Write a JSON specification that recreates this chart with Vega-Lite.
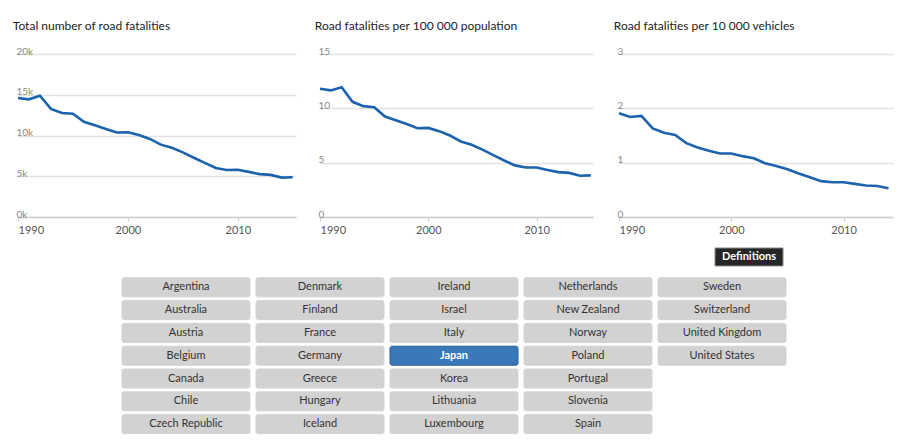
{
  "$schema": "https://vega.github.io/schema/vega-lite/v6.json",
  "padding": {"left": 12, "top": 20, "right": 5, "bottom": 5},
  "background": "white",
  "config": {
    "view": {"stroke": null},
    "font": "Lato",
    "title": {"anchor": "start", "dx": 0, "fontSize": 12, "fontWeight": "normal", "color": "#222222", "font": "Lato", "offset": 13},
    "axisX": {"grid": false, "domainColor": "#d0d0d0", "domainWidth": 1.5, "tickColor": "#d0d0d0", "tickSize": 4, "labelColor": "#555555", "labelFontSize": 11, "labelPadding": 3, "labelFont": "Lato", "title": null, "labelFlush": true},
    "axisY": {"domain": false, "ticks": false, "tickSize": 0, "grid": true, "gridColor": "#e3e3e3", "gridWidth": 1.5, "labelAlign": "left", "labelBaseline": "alphabetic", "labelPadding": 2, "labelDy": -3, "labelColor": "#8a8a8a", "labelFontSize": 10, "labelFont": "Lato", "title": null}
  },
  "datasets": {
    "japan": [
      {"year": 1990, "total": 14595, "per_pop": 11.8, "per_veh": 1.91},
      {"year": 1991, "total": 14436, "per_pop": 11.65, "per_veh": 1.84},
      {"year": 1992, "total": 14886, "per_pop": 11.95, "per_veh": 1.86},
      {"year": 1993, "total": 13269, "per_pop": 10.6, "per_veh": 1.63},
      {"year": 1994, "total": 12768, "per_pop": 10.2, "per_veh": 1.55},
      {"year": 1995, "total": 12670, "per_pop": 10.1, "per_veh": 1.51},
      {"year": 1996, "total": 11674, "per_pop": 9.25, "per_veh": 1.36},
      {"year": 1997, "total": 11254, "per_pop": 8.9, "per_veh": 1.28},
      {"year": 1998, "total": 10805, "per_pop": 8.55, "per_veh": 1.22},
      {"year": 1999, "total": 10372, "per_pop": 8.17, "per_veh": 1.17},
      {"year": 2000, "total": 10403, "per_pop": 8.2, "per_veh": 1.17},
      {"year": 2001, "total": 10060, "per_pop": 7.9, "per_veh": 1.12},
      {"year": 2002, "total": 9575, "per_pop": 7.5, "per_veh": 1.08},
      {"year": 2003, "total": 8877, "per_pop": 6.95, "per_veh": 0.99},
      {"year": 2004, "total": 8492, "per_pop": 6.65, "per_veh": 0.94},
      {"year": 2005, "total": 7931, "per_pop": 6.2, "per_veh": 0.88},
      {"year": 2006, "total": 7272, "per_pop": 5.7, "per_veh": 0.8},
      {"year": 2007, "total": 6639, "per_pop": 5.2, "per_veh": 0.73},
      {"year": 2008, "total": 6023, "per_pop": 4.75, "per_veh": 0.66},
      {"year": 2009, "total": 5772, "per_pop": 4.55, "per_veh": 0.64},
      {"year": 2010, "total": 5806, "per_pop": 4.55, "per_veh": 0.64},
      {"year": 2011, "total": 5535, "per_pop": 4.33, "per_veh": 0.61},
      {"year": 2012, "total": 5261, "per_pop": 4.13, "per_veh": 0.58},
      {"year": 2013, "total": 5165, "per_pop": 4.06, "per_veh": 0.57},
      {"year": 2014, "total": 4838, "per_pop": 3.8, "per_veh": 0.53},
      {"year": 2015, "total": 4885, "per_pop": 3.83, "per_veh": null}
    ],
    "countries": [
      {"country": "Argentina", "col": 1, "row": 1, "selected": "no"},
      {"country": "Australia", "col": 1, "row": 2, "selected": "no"},
      {"country": "Austria", "col": 1, "row": 3, "selected": "no"},
      {"country": "Belgium", "col": 1, "row": 4, "selected": "no"},
      {"country": "Canada", "col": 1, "row": 5, "selected": "no"},
      {"country": "Chile", "col": 1, "row": 6, "selected": "no"},
      {"country": "Czech Republic", "col": 1, "row": 7, "selected": "no"},
      {"country": "Denmark", "col": 2, "row": 1, "selected": "no"},
      {"country": "Finland", "col": 2, "row": 2, "selected": "no"},
      {"country": "France", "col": 2, "row": 3, "selected": "no"},
      {"country": "Germany", "col": 2, "row": 4, "selected": "no"},
      {"country": "Greece", "col": 2, "row": 5, "selected": "no"},
      {"country": "Hungary", "col": 2, "row": 6, "selected": "no"},
      {"country": "Iceland", "col": 2, "row": 7, "selected": "no"},
      {"country": "Ireland", "col": 3, "row": 1, "selected": "no"},
      {"country": "Israel", "col": 3, "row": 2, "selected": "no"},
      {"country": "Italy", "col": 3, "row": 3, "selected": "no"},
      {"country": "Japan", "col": 3, "row": 4, "selected": "yes"},
      {"country": "Korea", "col": 3, "row": 5, "selected": "no"},
      {"country": "Lithuania", "col": 3, "row": 6, "selected": "no"},
      {"country": "Luxembourg", "col": 3, "row": 7, "selected": "no"},
      {"country": "Netherlands", "col": 4, "row": 1, "selected": "no"},
      {"country": "New Zealand", "col": 4, "row": 2, "selected": "no"},
      {"country": "Norway", "col": 4, "row": 3, "selected": "no"},
      {"country": "Poland", "col": 4, "row": 4, "selected": "no"},
      {"country": "Portugal", "col": 4, "row": 5, "selected": "no"},
      {"country": "Slovenia", "col": 4, "row": 6, "selected": "no"},
      {"country": "Spain", "col": 4, "row": 7, "selected": "no"},
      {"country": "Sweden", "col": 5, "row": 1, "selected": "no"},
      {"country": "Switzerland", "col": 5, "row": 2, "selected": "no"},
      {"country": "United Kingdom", "col": 5, "row": 3, "selected": "no"},
      {"country": "United States", "col": 5, "row": 4, "selected": "no"}
    ],
    "buttons": [
      {"label": "Definitions", "col": 5, "row": 0}
    ]
  },
  "spacing": 12,
  "vconcat": [
    {
      "spacing": 16,
      "hconcat": [
        {
          "width": 278, "height": 163,
          "title": "Total number of road fatalities",
          "data": {"name": "japan"},
          "mark": {"type": "line", "color": "#1c62ac", "strokeWidth": 2.6},
          "encoding": {
            "x": {"field": "year", "type": "quantitative", "scale": {"domain": [1990, 2015.3], "nice": false, "zero": false}, "axis": {"values": [1990, 2000, 2010], "format": "d"}},
            "y": {"field": "total", "type": "quantitative", "scale": {"domain": [0, 20000], "nice": false}, "axis": {"values": [0, 5000, 10000, 15000, 20000], "labelExpr": "datum.value / 1000 + 'k'"}}
          }
        },
        {
          "width": 273, "height": 163,
          "title": "Road fatalities per 100 000 population",
          "data": {"name": "japan"},
          "mark": {"type": "line", "color": "#1c62ac", "strokeWidth": 2.6},
          "encoding": {
            "x": {"field": "year", "type": "quantitative", "scale": {"domain": [1990, 2015.2], "nice": false, "zero": false}, "axis": {"values": [1990, 2000, 2010], "format": "d"}},
            "y": {"field": "per_pop", "type": "quantitative", "scale": {"domain": [0, 15], "nice": false}, "axis": {"values": [0, 5, 10, 15], "format": "d"}}
          }
        },
        {
          "width": 274, "height": 163,
          "title": "Road fatalities per 10 000 vehicles",
          "data": {"name": "japan"},
          "mark": {"type": "line", "color": "#1c62ac", "strokeWidth": 2.6},
          "encoding": {
            "x": {"field": "year", "type": "quantitative", "scale": {"domain": [1990, 2014.4], "nice": false, "zero": false}, "axis": {"values": [1990, 2000, 2010], "format": "d"}},
            "y": {"field": "per_veh", "type": "quantitative", "scale": {"domain": [0, 3], "nice": false}, "axis": {"values": [0, 1, 2, 3], "format": "d"}}
          }
        }
      ]
    },
    {
      "width": 872, "height": 178.6,
      "encoding": {
        "x": {"field": "col", "type": "ordinal", "scale": {"domain": [1, 2, 3, 4, 5], "paddingInner": 0.045, "paddingOuter": 0.776}, "axis": null},
        "y": {"field": "row", "type": "ordinal", "scale": {"domain": [0, 1, 2, 3, 4, 5, 6, 7], "paddingInner": 0.167, "paddingOuter": 0}, "axis": null}
      },
      "layer": [
        {
          "data": {"name": "countries"},
          "mark": {"type": "rect", "cornerRadius": 2, "strokeWidth": 1},
          "encoding": {
            "color": {"field": "selected", "type": "nominal", "scale": {"domain": ["no", "yes"], "range": ["#d2d2d2", "#3a79b9"]}, "legend": null},
            "stroke": {"field": "selected", "type": "nominal", "scale": {"domain": ["no", "yes"], "range": ["#d2d2d2", "#2a5c95"]}, "legend": null}
          }
        },
        {
          "data": {"name": "countries"},
          "transform": [{"filter": "datum.selected === 'no'"}],
          "mark": {"type": "text", "fontSize": 11, "font": "Lato", "color": "#333333", "baseline": "middle"},
          "encoding": {"text": {"field": "country"}}
        },
        {
          "data": {"name": "countries"},
          "transform": [{"filter": "datum.selected === 'yes'"}],
          "mark": {"type": "text", "fontSize": 11, "font": "Lato", "fontWeight": "bold", "color": "white", "baseline": "middle"},
          "encoding": {"text": {"field": "country"}}
        },
        {
          "data": {"name": "buttons"},
          "mark": {"type": "rect", "width": 68, "height": 18, "xOffset": 27, "yOffset": -7.5, "color": "#262626", "stroke": "#8a8a8a", "strokeWidth": 1},
          "encoding": {}
        },
        {
          "data": {"name": "buttons"},
          "mark": {"type": "text", "fontSize": 11, "font": "Lato", "fontWeight": "bold", "color": "white", "baseline": "middle", "dx": 27, "dy": -7.5},
          "encoding": {"text": {"field": "label"}}
        }
      ]
    }
  ]
}
